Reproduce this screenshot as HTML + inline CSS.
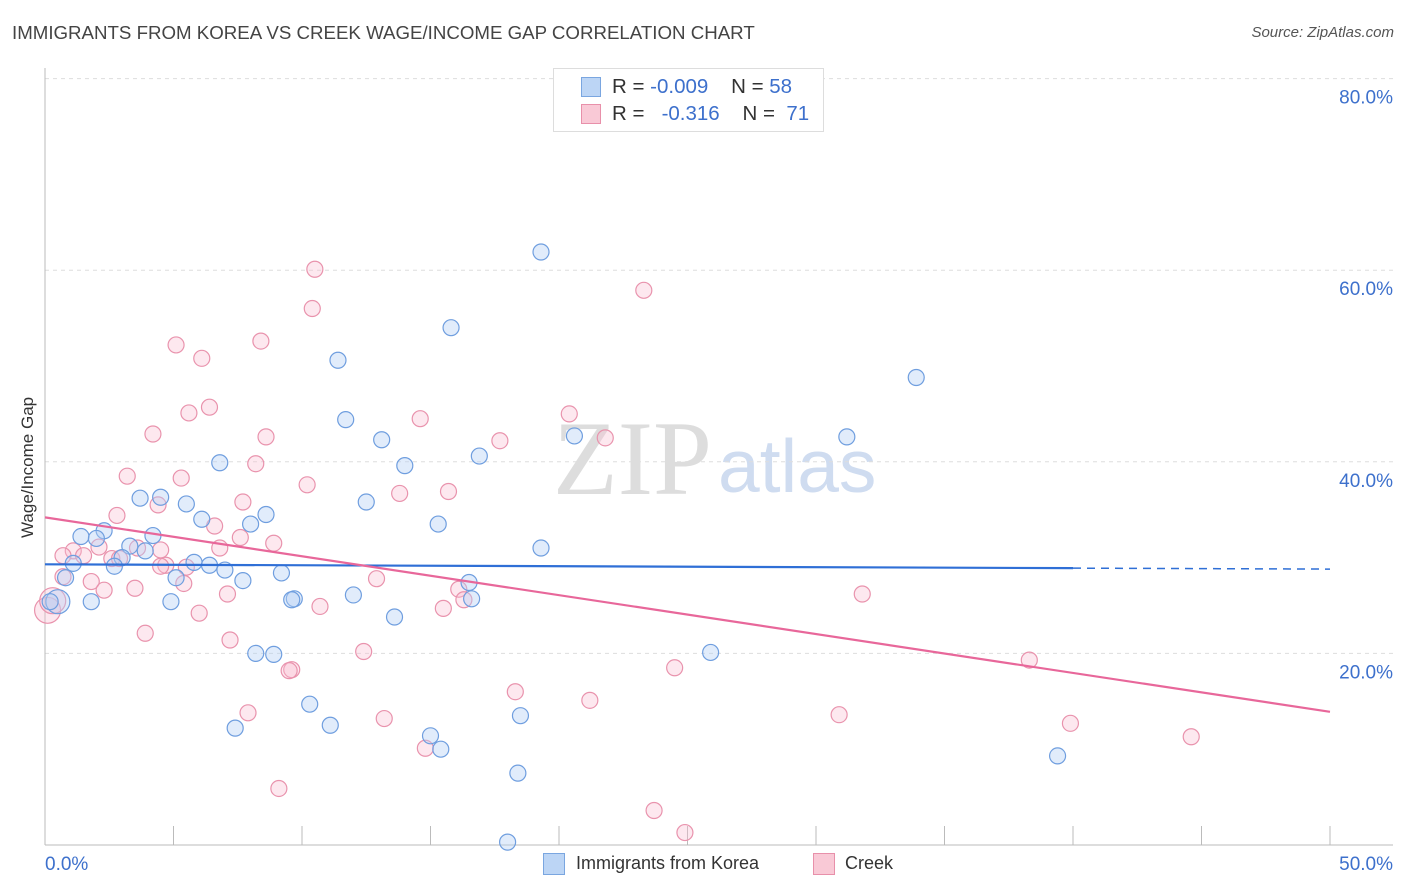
<!DOCTYPE html>
<html><head><meta charset="utf-8"><style>
body{margin:0;background:#fff;font-family:"Liberation Sans",sans-serif;}
#wrap{position:relative;width:1406px;height:892px;overflow:hidden;}
.t{position:absolute;white-space:nowrap;}
</style></head><body>
<div id="wrap">
<div class="t" style="left:12px;top:22px;font-size:18.7px;color:#444;">IMMIGRANTS FROM KOREA VS CREEK WAGE/INCOME GAP CORRELATION CHART</div>
<div class="t" style="right:12px;top:24px;font-size:15px;color:#555;font-style:italic;">Source: ZipAtlas.com</div>
<svg id="svg" width="1406" height="892" style="position:absolute;left:0;top:0">
<text x="553" y="494" font-size="106" fill="#ddd" font-family="Liberation Serif">ZIP</text>
<text x="718" y="492" font-size="75" fill="#cfdcf0" font-family="Liberation Sans">atlas</text>
</svg>
<div style="position:absolute;left:553px;top:68px;width:269px;height:62px;border:1px solid #ddd;background:#fff;">
<div style="position:absolute;left:27px;top:8px;width:18px;height:18px;background:#bcd5f5;border:1px solid #7aa6e0;"></div>
<div class="t" style="left:58px;top:6px;font-size:20.5px;color:#333;">R = <span style="color:#3d70cc">-0.009</span> &nbsp;&nbsp; N = <span style="color:#3d70cc">58</span></div>
<div style="position:absolute;left:27px;top:35px;width:18px;height:18px;background:#f9c9d6;border:1px solid #e890aa;"></div>
<div class="t" style="left:58px;top:33px;font-size:20.5px;color:#333;">R = &nbsp;&nbsp;<span style="color:#3d70cc">-0.316</span> &nbsp;&nbsp; N = &nbsp;<span style="color:#3d70cc">71</span></div>
</div>
<div class="t" style="font-size:17px;color:#333;transform:rotate(-90deg);transform-origin:0 0;top:538px;left:18px;">Wage/Income Gap</div>
<div style="position:absolute;left:543px;top:853px;width:20px;height:20px;background:#bcd5f5;border:1px solid #7aa6e0;"></div>
<div class="t" style="left:576px;top:853px;font-size:18px;color:#333;">Immigrants from Korea</div>
<div style="position:absolute;left:813px;top:853px;width:20px;height:20px;background:#f9c9d6;border:1px solid #e890aa;"></div>
<div class="t" style="left:845px;top:853px;font-size:18px;color:#333;">Creek</div>
</div>
<script>
const yTicks=[20,40,60,80];
const xTickLabels=["0.0%","50.0%"];
const koreaX=[19.3,15.8,11.4,33.9,11.7,13.1,20.6,31.2,6.8,14.0,16.9,3.7,4.5,5.5,12.5,8.6,6.1,8.0,15.3,2.3,1.4,2.0,4.2,3.3,3.9,19.3,3.0,2.7,1.1,5.8,6.4,7.0,9.2,5.1,7.7,0.8,16.5,0.5,0.2,1.8,4.9,9.7,9.6,12.0,16.6,13.6,8.2,8.9,25.9,10.3,7.4,11.1,18.5,15.0,15.4,39.4,18.4,18.0];
const koreaY=[61.9,54.0,50.6,48.8,44.4,42.3,42.7,42.6,39.9,39.6,40.6,36.2,36.3,35.6,35.8,34.5,34.0,33.5,33.5,32.8,32.2,32.0,32.3,31.2,30.7,31.0,30.0,29.1,29.4,29.5,29.2,28.7,28.4,27.9,27.6,27.9,27.4,25.4,25.4,25.4,25.4,25.7,25.6,26.1,25.7,23.8,20.0,19.9,20.1,14.7,12.2,12.5,13.5,11.4,10.0,9.3,7.5,0.3];
const creekX=[10.5,10.4,23.3,5.1,6.1,8.4,6.4,5.6,14.6,20.4,4.2,8.6,17.7,21.8,8.2,3.2,5.3,10.2,13.8,15.7,7.7,4.4,2.8,6.6,7.6,8.9,6.8,1.1,1.5,2.1,3.6,0.7,2.6,4.7,4.5,5.5,0.7,1.8,2.3,3.5,5.4,12.9,7.1,16.1,16.3,31.8,10.7,15.5,6.0,3.9,7.2,12.4,38.3,9.6,9.5,24.5,18.3,21.2,7.9,13.2,30.9,39.9,44.6,14.8,9.1,23.7,24.9,0.1,0.3,4.5,2.9];
const creekY=[60.1,56.0,57.9,52.2,50.8,52.6,45.7,45.1,44.5,45.0,42.9,42.6,42.2,42.5,39.8,38.5,38.3,37.6,36.7,36.9,35.8,35.5,34.4,33.3,32.1,31.5,31.0,30.7,30.2,31.1,31.0,30.2,29.9,29.2,29.1,29.0,28.0,27.5,26.6,26.8,27.3,27.8,26.2,26.7,25.6,26.2,24.9,24.7,24.2,22.1,21.4,20.2,19.3,18.3,18.2,18.5,16.0,15.1,13.8,13.2,13.6,12.7,11.3,10.1,5.9,3.6,1.3,24.5,25.5,30.8,29.9];
const koreaTrend=[29.3,28.8];
const creekTrend=[34.2,13.9];
const X0=45,X1=1330,Y0=845,PXY=9.58;
const sx=v=>X0+(X1-X0)*v/50, sy=v=>Y0-v*PXY;
const svg=document.getElementById('svg');const NS='http://www.w3.org/2000/svg';
function mk(t,a){const e=document.createElementNS(NS,t);for(const k in a)e.setAttribute(k,a[k]);svg.appendChild(e);return e;}
yTicks.forEach(v=>{
 const l=mk('line',{x1:45,x2:1393,y1:sy(v),y2:sy(v),stroke:'#ddd','stroke-dasharray':'4,4'});
 
 
 const t=mk('text',{x:1393,y:sy(v)+25,'text-anchor':'end','font-size':19,fill:'#3d70cc','font-family':'Liberation Sans'});t.textContent=v.toFixed(1)+'%';
 
 
});
const ax=mk('line',{x1:45,x2:45,y1:68,y2:845,stroke:'#bbb'});


const bx=mk('line',{x1:45,x2:1393,y1:845,y2:845,stroke:'#bbb'});


for(let i=0;i<=10;i++){const tk=mk('line',{x1:sx(i*5),x2:sx(i*5),y1:826,y2:845,stroke:'#bbb'});
 
 }
[[0,'start',45],[1,'end',1393]].forEach(([i,a,x])=>{const t=mk('text',{x:x,y:870,'text-anchor':a,'font-size':19,fill:'#3d70cc','font-family':'Liberation Sans'});t.textContent=xTickLabels[i];
 
 });
creekX.forEach((x,i)=>{const c=mk('circle',{cx:sx(x),cy:sy(creekY[i]),r:(i>=67&&i<69)?13:8,fill:'rgba(249,190,208,0.35)',stroke:'#e993ad','stroke-width':1.2});
 
 });
koreaX.forEach((x,i)=>{const c=mk('circle',{cx:sx(x),cy:sy(koreaY[i]),r:(i==37)?12:8,fill:'rgba(180,208,245,0.4)',stroke:'#6f9edf','stroke-width':1.2});
 
 });
const kt=mk('line',{x1:sx(0),y1:sy(koreaTrend[0]),x2:sx(40),y2:sy(koreaTrend[0]+(koreaTrend[1]-koreaTrend[0])*0.8),stroke:'#2f6fd6','stroke-width':2.2});


const kd=mk('line',{x1:sx(40),y1:sy(koreaTrend[0]+(koreaTrend[1]-koreaTrend[0])*0.8),x2:sx(50),y2:sy(koreaTrend[1]),stroke:'#2f6fd6','stroke-width':1.5,'stroke-dasharray':'8,6'});


const ct=mk('line',{x1:sx(0),y1:sy(creekTrend[0]),x2:sx(50),y2:sy(creekTrend[1]),stroke:'#e8679a','stroke-width':2.2});


</script>
</body></html>
